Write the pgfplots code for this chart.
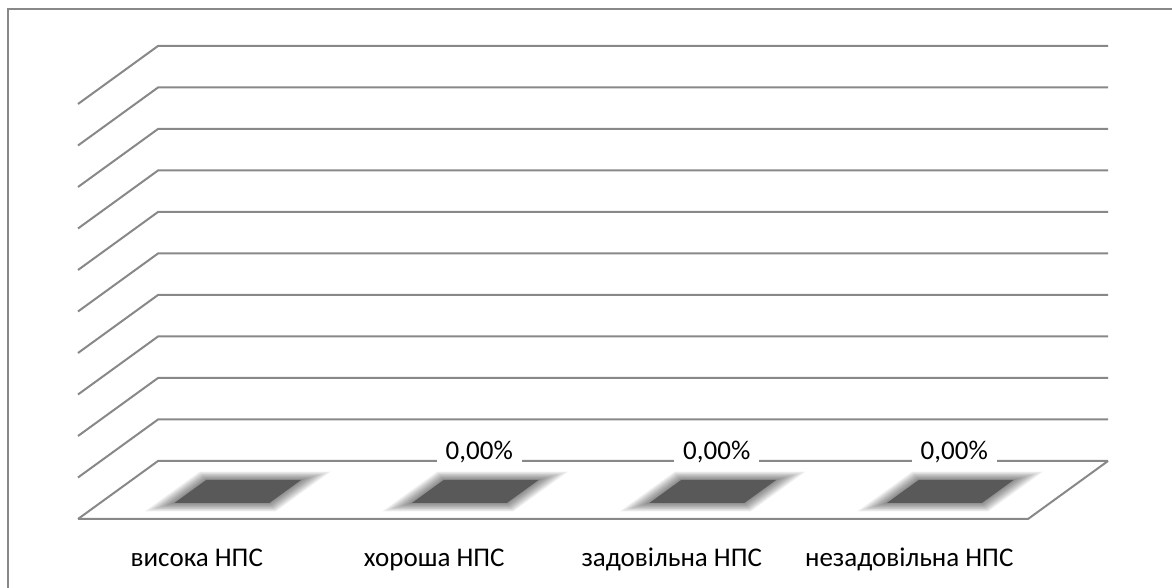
\documentclass[border=0pt]{standalone}
\usepackage{fontspec}
\setmainfont{Carlito}
\usepackage{pgfplots}
\pgfplotsset{compat=1.18}
\usepackage{pgfplotstable}

\definecolor{gridc}{RGB}{136,136,136}
\definecolor{barc}{RGB}{89,89,89}

% all four categories are at 0 %
\pgfplotstableread{
x y
0 0
1 0
2 0
3 0
}\npsdata

% flat (zero height) bar lying on the floor; centre is (20.5pt,13.75pt) from the data point
\newcommand\floorpara[2]{%
  \pgfpathmoveto{\pgfpoint{20.5pt-(#1)-1.379*(#2)}{13.75pt-(#2)}}%
  \pgfpathlineto{\pgfpoint{20.5pt+(#1)-1.379*(#2)}{13.75pt-(#2)}}%
  \pgfpathlineto{\pgfpoint{20.5pt+(#1)+1.379*(#2)}{13.75pt+(#2)}}%
  \pgfpathlineto{\pgfpoint{20.5pt-(#1)+1.379*(#2)}{13.75pt+(#2)}}%
  \pgfpathclose}

% soft glow made of stacked translucent layers
\pgfdeclareplotmark{flatbar}{%
  \foreach \j in {10,9,...,1}{%
    \begin{pgfscope}%
      \pgfsetfillcolor{black}\pgfsetfillopacity{0.055}%
      \floorpara{23.75pt+0.9pt*\j}{5.75pt+0.42pt*\j}%
      \pgfusepath{fill}%
    \end{pgfscope}}%
  \pgfsetfillcolor{barc}%
  \floorpara{23.75pt}{5.75pt}%
  \pgfusepath{fill}}

\begin{document}
\begin{tikzpicture}
\useasboundingbox (0,0) rectangle (586pt,294pt);
\draw[gridc, line width=1pt] (3.75pt,-10pt) -- (3.75pt,289.25pt) -- (600pt,289.25pt);
\begin{axis}[
  at={(39pt,34.5pt)}, anchor=south west,
  width=475pt, height=207.5pt, scale only axis,
  xmin=-0.5, xmax=3.5, ymin=0, ymax=100,
  clip=false,
  axis line style={draw=none},
  major tick length=0pt,
  ytick=\empty,
  xtick={0,1,2,3},
  xticklabels={висока НПС, хороша НПС, задовільна НПС, незадовільна НПС},
  xticklabel style={anchor=base, yshift=-24pt, font=\fontsize{13.5}{16}\selectfont},
]
  % back wall gridlines with their oblique side edges
  \pgfplotsinvokeforeach{0,10,...,100}{
    \draw[gridc, line width=1pt] (axis cs:-0.5,#1) -- (axis cs:-0.16316,{#1+13.976}) -- (axis cs:3.83684,{#1+13.976});
  }
  % floor front and right edges
  \draw[gridc, line width=1pt] (axis cs:-0.5,0) -- (axis cs:3.5,0) -- (axis cs:3.83684,13.976);

  \addplot[only marks, mark=flatbar] table[x=x, y=y] {\npsdata};

  \addplot[draw=none, mark=none, restrict x to domain=1:3,
    point meta=y,
    nodes near coords={\pgfmathprintnumber[fixed, fixed zerofill, precision=2, use comma, assume math mode=true]{\pgfplotspointmeta}\%},
    nodes near coords style={anchor=center, xshift=22.5pt, yshift=33.5pt,
      fill=white, inner xsep=4.5pt, inner ysep=2pt, text=black,
      font=\fontsize{13.5}{16}\selectfont}]
    table[x=x, y=y] {\npsdata};
\end{axis}
\end{tikzpicture}
\end{document}
